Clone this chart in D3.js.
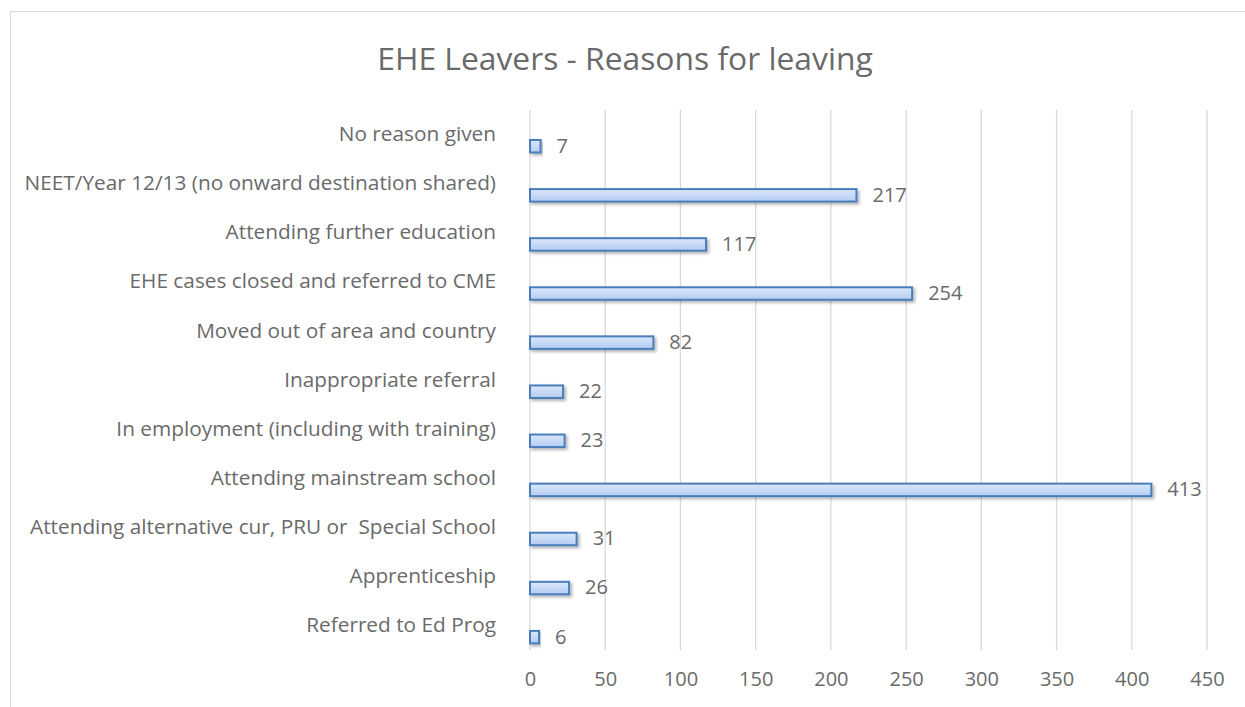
<!DOCTYPE html>
<html>
    <head>
        <title>EHE Leavers</title>
        <script src="https://d3js.org/d3.v7.min.js"></script>
        <style>
            body { margin: 0; background: #fff; }
            text { font-family: "Open Sans", sans-serif; fill: #6a6a6a; }
        </style>
    </head>
    <body>
        <svg width="1245" height="707" id="mainSvg"></svg>
        <script>
            const categories = [
                "No reason given",
                "NEET/Year 12/13 (no onward destination shared)",
                "Attending further education",
                "EHE cases closed and referred to CME",
                "Moved out of area and country",
                "Inappropriate referral",
                "In employment (including with training)",
                "Attending mainstream school",
                "Attending alternative cur, PRU or  Special School",
                "Apprenticeship",
                "Referred to Ed Prog"
            ]
            const values = [7, 217, 117, 254, 82, 22, 23, 413, 31, 26, 6]
            const xTicks = [0, 50, 100, 150, 200, 250, 300, 350, 400, 450]
            const chartTitle = "EHE Leavers - Reasons for leaving"

            const data = categories.map((c, i) => ({name: c, value: values[i]}))

            const mainSvg = d3.select("#mainSvg")

            // chart area border (right and bottom edges run off the picture)
            mainSvg.append("path")
                .attr("d", "M1245,11.5 H10.5 V707")
                .attr("fill", "none").attr("stroke", "#d9d9d9").attr("stroke-width", 1)

            const margin = {top: 110, left: 530}
            const innerWidth = 677
            const innerHeight = 540

            const defs = mainSvg.append("defs")
            const grad = defs.append("linearGradient")
                .attr("id", "barGrad").attr("x1", 0).attr("y1", 0).attr("x2", 0).attr("y2", 1)
            grad.append("stop").attr("offset", "0%").attr("stop-color", "#dce8fb")
            grad.append("stop").attr("offset", "100%").attr("stop-color", "#b3cbf2")

            const shadow = defs.append("filter").attr("id", "shadow")
                .attr("x", "-20%").attr("y", "-50%").attr("width", "140%").attr("height", "220%")
            shadow.append("feDropShadow")
                .attr("dx", 2).attr("dy", 2).attr("stdDeviation", 1.5)
                .attr("flood-color", "#000").attr("flood-opacity", 0.3)

            const g = mainSvg.append("g")
                .attr("transform", `translate(${margin.left}, ${margin.top})`)

            const xScale = d3.scaleLinear()
                .domain([0, 450])
                .range([0, innerWidth])

            const yScale = d3.scaleBand()
                .domain(categories)
                .range([0, innerHeight])

            // gridlines
            g.selectAll(".grid").data(xTicks).enter().append("line")
                .attr("class", "grid")
                .attr("x1", d => xScale(d)).attr("x2", d => xScale(d))
                .attr("y1", 0).attr("y2", innerHeight)
                .attr("stroke", "#d9d9d9").attr("stroke-width", 1.3)

            // x axis labels
            const xAxis = d3.axisBottom(xScale).tickValues(xTicks).tickSize(0).tickPadding(22)
            const xg = g.append("g").attr("transform", `translate(0, ${innerHeight})`).call(xAxis)
                .attr("font-size", 20).attr("font-family", "Open Sans")
            xg.select(".domain").remove()
            xg.selectAll(".tick text").attr("fill", "#6a6a6a")

            // category labels
            const yAxis = d3.axisLeft(yScale).tickSize(0).tickPadding(34)
            const yg = g.append("g").call(yAxis)
                .attr("font-size", 20.8).attr("font-family", "Open Sans")
            yg.select(".domain").remove()
            yg.selectAll(".tick text")
                .attr("fill", "#6a6a6a")
                .style("white-space", "pre")

            // bars (second series slot of a clustered band)
            const barH = 12.5
            const barOff = 30
            g.selectAll(".bar").data(data).enter().append("rect")
                .attr("class", "bar")
                .attr("x", 0)
                .attr("y", d => yScale(d.name) + barOff)
                .attr("width", d => xScale(d.value))
                .attr("height", barH)
                .attr("fill", "url(#barGrad)")
                .attr("stroke", "#4a7ebb")
                .attr("stroke-width", 2)
                .attr("filter", "url(#shadow)")

            // value labels
            g.selectAll(".val").data(data).enter().append("text")
                .attr("class", "val")
                .attr("x", d => xScale(d.value) + 16)
                .attr("y", d => yScale(d.name) + barOff + barH / 2 + 1)
                .attr("dominant-baseline", "middle")
                .attr("font-size", 20)
                .text(d => d.value)

            // title
            mainSvg.append("text")
                .attr("x", 625).attr("y", 70)
                .attr("text-anchor", "middle")
                .attr("font-size", 31.8)
                .text(chartTitle)
        </script>
    </body>
</html>
